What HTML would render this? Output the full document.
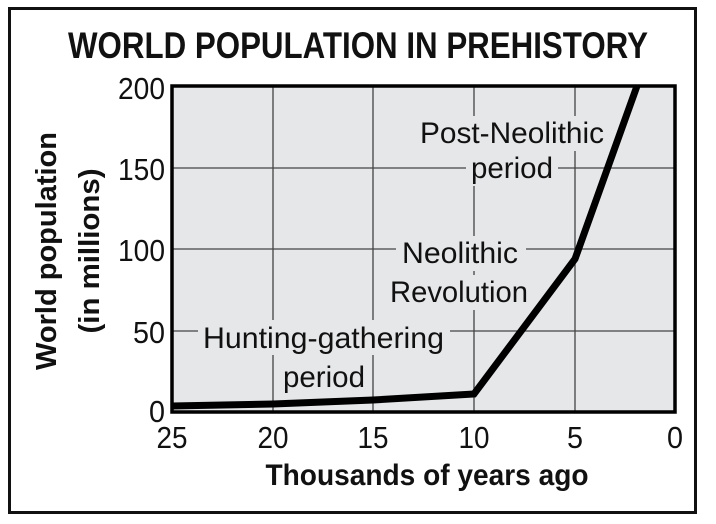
<!DOCTYPE html>
<html><head><meta charset="utf-8"><style>
html,body{margin:0;padding:0;background:#fff;}
svg{display:block;font-family:"Liberation Sans",sans-serif;}
</style></head><body>
<svg width="716" height="524" viewBox="0 0 716 524" xmlns="http://www.w3.org/2000/svg">
<rect x="9.5" y="8.5" width="686" height="504" fill="#fff" stroke="#111" stroke-width="3"/>
<text x="358" y="58" font-size="37" font-weight="bold" text-anchor="middle" textLength="580" lengthAdjust="spacingAndGlyphs" fill="#111">WORLD POPULATION IN PREHISTORY</text>
<rect x="172" y="86" width="503" height="326" fill="#e6e7e9"/>
<g stroke="#444" stroke-width="1.3">
<line x1="172" y1="168" x2="675" y2="168"/>
<line x1="172" y1="249" x2="675" y2="249"/>
<line x1="172" y1="331" x2="675" y2="331"/>
<line x1="273" y1="86" x2="273" y2="412"/>
<line x1="373" y1="86" x2="373" y2="412"/>
<line x1="474" y1="86" x2="474" y2="412"/>
<line x1="575" y1="86" x2="575" y2="412"/>
</g>
<g fill="#e6e7e9">
<rect x="412" y="116" width="198" height="35"/>
<rect x="466" y="151" width="92" height="35"/>
<rect x="396" y="236" width="130" height="35"/>
<rect x="384" y="275" width="148" height="35"/>
<rect x="198" y="320" width="252" height="35"/>
<rect x="278" y="359" width="92" height="35"/>
</g>
<g font-size="30" fill="#111">
<text x="420" y="143" textLength="184" lengthAdjust="spacingAndGlyphs">Post-Neolithic</text>
<text x="471" y="178" textLength="82" lengthAdjust="spacingAndGlyphs">period</text>
<text x="402" y="263" textLength="116" lengthAdjust="spacingAndGlyphs">Neolithic</text>
<text x="390" y="302" textLength="138" lengthAdjust="spacingAndGlyphs">Revolution</text>
<text x="203" y="348" textLength="241" lengthAdjust="spacingAndGlyphs">Hunting-gathering</text>
<text x="283" y="387" textLength="82" lengthAdjust="spacingAndGlyphs">period</text>
</g>
<polyline points="172,406 273,404 373,400 474,394 575,259 637,86" fill="none" stroke="#000" stroke-width="7" stroke-linejoin="miter"/>
<rect x="172" y="86" width="503" height="326" fill="none" stroke="#000" stroke-width="3.5"/>
<g font-size="31" fill="#111" text-anchor="end">
<text x="165" y="99" textLength="47" lengthAdjust="spacingAndGlyphs">200</text>
<text x="165" y="180" textLength="47" lengthAdjust="spacingAndGlyphs">150</text>
<text x="165" y="261" textLength="47" lengthAdjust="spacingAndGlyphs">100</text>
<text x="165" y="343" textLength="32" lengthAdjust="spacingAndGlyphs">50</text>
<text x="165" y="422" textLength="16" lengthAdjust="spacingAndGlyphs">0</text>
</g>
<g font-size="31" fill="#111" text-anchor="middle">
<text x="172" y="448" textLength="31" lengthAdjust="spacingAndGlyphs">25</text>
<text x="273" y="448" textLength="31" lengthAdjust="spacingAndGlyphs">20</text>
<text x="373" y="448" textLength="31" lengthAdjust="spacingAndGlyphs">15</text>
<text x="474" y="448" textLength="31" lengthAdjust="spacingAndGlyphs">10</text>
<text x="575" y="448" textLength="16" lengthAdjust="spacingAndGlyphs">5</text>
<text x="675" y="448" textLength="16" lengthAdjust="spacingAndGlyphs">0</text>
</g>
<text x="427" y="485" font-size="30" font-weight="bold" text-anchor="middle" textLength="323" lengthAdjust="spacingAndGlyphs" fill="#111">Thousands of years ago</text>
<text transform="translate(56,251) rotate(-90)" font-size="29" font-weight="bold" text-anchor="middle" textLength="238" lengthAdjust="spacingAndGlyphs" fill="#111">World population</text>
<text transform="translate(99,251) rotate(-90)" font-size="29" font-weight="bold" text-anchor="middle" textLength="165" lengthAdjust="spacingAndGlyphs" fill="#111">(in millions)</text>
</svg>
</body></html>
